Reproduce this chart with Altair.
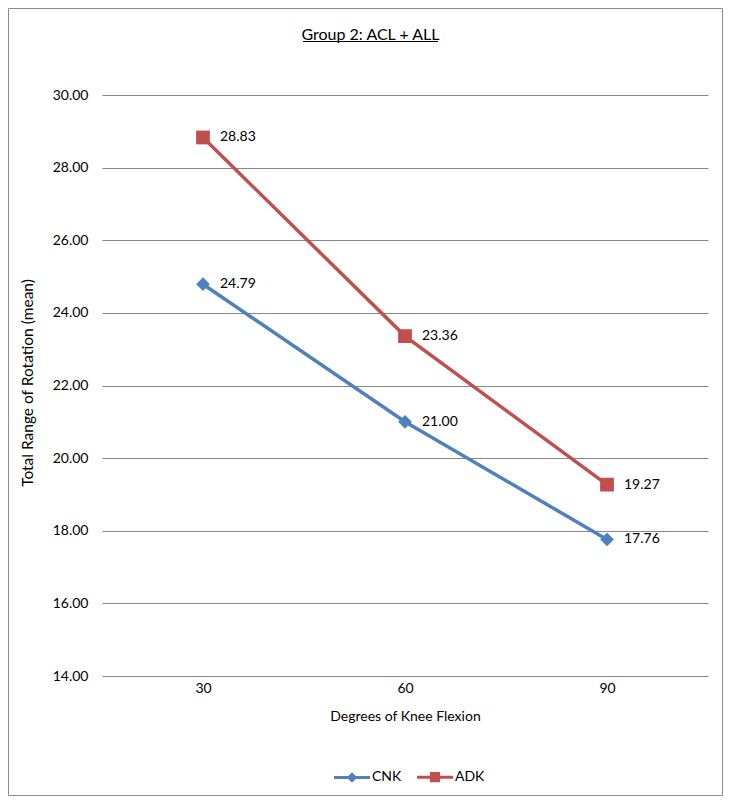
import altair as alt
import pandas as pd

# ---- data ----
categories = ["30", "60", "90"]
cnk_values = [24.79, 21.00, 17.76]
adk_values = [28.83, 23.36, 19.27]
series_names = ["CNK", "ADK"]
series_colors = ["#4F81BD", "#C0504D"]
y_ticks = [14, 16, 18, 20, 22, 24, 26, 28, 30]
title_text = "Group 2: ACL + ALL"
x_title = "Degrees of Knee Flexion"
y_title = "Total Range of Rotation (mean)"

rows = []
for name, vals in zip(series_names, [cnk_values, adk_values]):
    for c, v in zip(categories, vals):
        rows.append({"flex": c, "value": v, "series": name})
df = pd.DataFrame(rows)

FONT = "Lato"
W, H = 606, 581
TOTAL_W, TOTAL_H = 715, 788
PAD = {"left": 94, "top": 87, "right": TOTAL_W - 94 - W, "bottom": TOTAL_H - 87 - H}

color_scale = alt.Scale(domain=series_names, range=series_colors)

x_enc = alt.X(
    "flex:O", sort=categories,
    axis=alt.Axis(title=x_title, labelAngle=0, ticks=False, domain=False,
                  labelPadding=5, titlePadding=14, labelFontSize=14,
                  titleFontSize=14, titleFontWeight="normal", labelFont=FONT,
                  titleFont=FONT, labelColor="#000000", titleColor="#000000"),
)
y_enc = alt.Y(
    "value:Q",
    scale=alt.Scale(domain=[14, 30], nice=False, zero=False),
    axis=alt.Axis(title=y_title, values=y_ticks, format=".2f", ticks=False,
                  domain=False, grid=True, gridColor="#868686", gridWidth=1,
                  labelPadding=14, labelFontSize=14, titleFontSize=15.5,
                  titleFontWeight="normal", labelFont=FONT, titleFont=FONT,
                  labelColor="#000000", titleColor="#000000",
                  titleX=-75, titleY=H / 2 - 3, titleAlign="center",
                  titleBaseline="middle", titleAngle=-90),
)

# legend symbols: a short line with the series marker in the middle
diamond_path = "M-1,0L1,0M0,-0.17L0.17,0L0,0.17L-0.17,0Z"
square_path = "M-1,0L1,0M-0.2,-0.2L0.2,-0.2L0.2,0.2L-0.2,0.2Z"
shape_scale_legend = alt.Scale(domain=series_names, range=[diamond_path, square_path])

legend = alt.Legend(
    orient="none", legendX=230, legendY=662, direction="horizontal",
    title=None, symbolSize=1300, labelFontSize=14, labelFont=FONT,
    labelColor="#000000", symbolStrokeWidth=3, padding=0, columnPadding=8,
    labelOffset=0, symbolOpacity=1,
)

base = alt.Chart(df)

lines = base.mark_line(strokeWidth=3.5).encode(
    x=x_enc, y=y_enc,
    color=alt.Color("series:N", scale=color_scale, legend=legend),
)

points = base.mark_point(filled=True, opacity=1, size=190).encode(
    x=x_enc, y=y_enc,
    color=alt.Color("series:N", scale=color_scale, legend=legend),
    shape=alt.condition("datum.series === 'CNK'", alt.value("diamond"), alt.value("square")),
)

legend_layer = base.transform_filter("false").mark_point(
    filled=True, opacity=1, strokeWidth=3, size=1300
).encode(
    x=x_enc, y=y_enc,
    color=alt.Color("series:N", scale=color_scale, legend=legend),
    stroke=alt.Stroke("series:N", scale=color_scale, legend=legend),
    shape=alt.Shape("series:N", scale=shape_scale_legend, legend=legend),
)

labels = base.mark_text(align="left", baseline="middle", dx=17, fontSize=14,
                        font=FONT, color="#000000").encode(
    x=x_enc, y=y_enc,
    text=alt.Text("value:Q", format=".2f"),
)

deco = pd.DataFrame({"k": [0]})
title_mark = alt.Chart(deco).mark_text(
    align="center", baseline="alphabetic", fontSize=16, font=FONT, color="#000000"
).encode(x=alt.value(268.5), y=alt.value(-55.5), text=alt.value(title_text))
underline = alt.Chart(deco).mark_rule(color="#000000", strokeWidth=1).encode(
    x=alt.value(201), x2=alt.value(336), y=alt.value(-53.5),
)
border = alt.Chart(deco).mark_rect(fillOpacity=0, stroke="#8c8c8c", strokeWidth=1).encode(
    x=alt.value(-93.5), x2=alt.value(TOTAL_W - 94 - 0.5),
    y=alt.value(-86.5), y2=alt.value(TOTAL_H - 87 - 0.5),
)

chart = alt.layer(border, lines, points, labels, legend_layer, title_mark, underline).properties(
    width=W, height=H,
    padding=PAD,
    autosize=alt.AutoSizeParams(type="none"),
    background="#ffffff",
).configure_view(stroke=None)

chart.save("out.html", embed_options={"renderer": "svg", "actions": False})
